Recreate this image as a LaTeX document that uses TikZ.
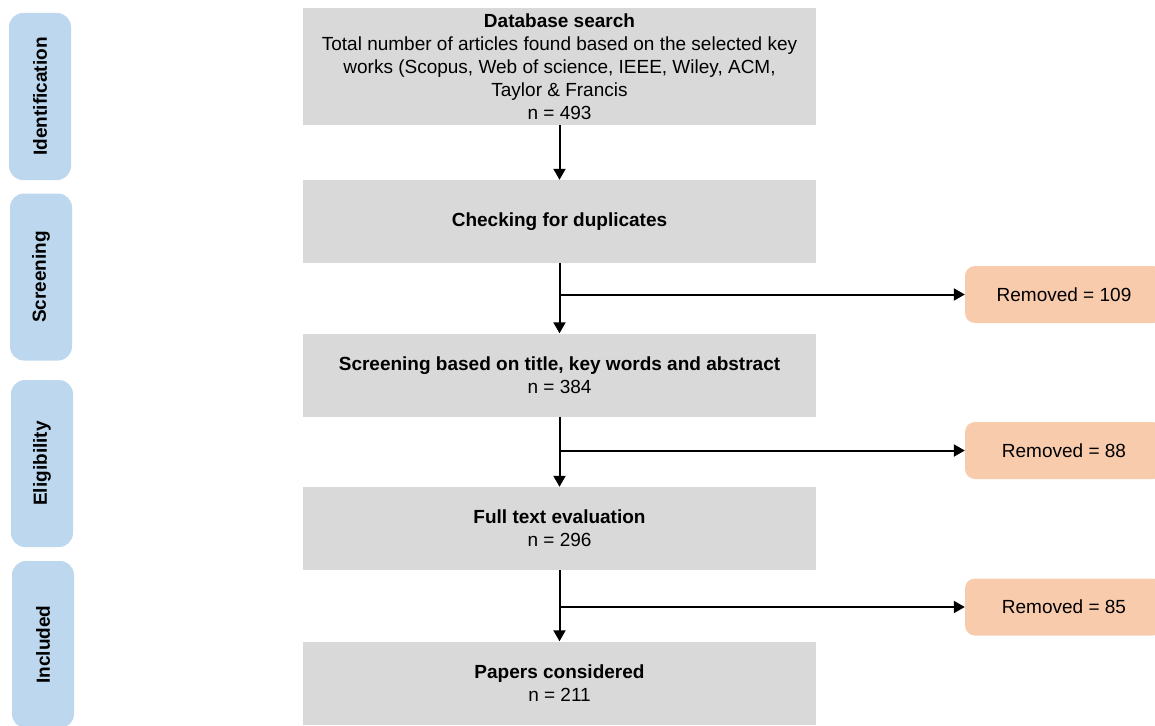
\documentclass[tikz,border=0pt]{standalone}
\usepackage{fontspec}
\setmainfont{Liberation Sans}
\usetikzlibrary{arrows.meta}
\definecolor{stagebg}{HTML}{BDD7EE}
\definecolor{stepbg}{HTML}{D9D9D9}
\definecolor{removedbg}{HTML}{F8CBAD}
\tikzset{
  stage/.style={fill=stagebg, rounded corners=14pt, rotate=90, minimum width=167pt, minimum height=62pt, inner sep=0pt, font=\fontsize{19}{23}\selectfont\bfseries},
  stepbox/.style={fill=stepbg, minimum width=513pt, minimum height=83pt, inner sep=0pt, align=center},
  removed/.style={fill=removedbg, rounded corners=10pt, minimum width=198pt, minimum height=57pt, inner sep=0pt},
  flow/.style={line width=2pt, -{Triangle[length=11pt,width=12pt]}}
}
\begin{document}
\begin{tikzpicture}[x=1pt, y=-1pt, font=\fontsize{19}{23}\selectfont]
  \useasboundingbox (0,0) rectangle (1155,725);
  \clip (0,0) rectangle (1155,725);
  \foreach \nm/\x/\y/\txt in {ident/40/96.5/Identification, screen/41/277/Screening, elig/42/463.5/Eligibility, incl/43/644.5/Included}
    \node[stage] (\nm) at (\x,\y) {\txt};
  \node[stepbox, minimum height=117pt] (db) at (559.5,66.5) {\textbf{Database search}\\Total number of articles found based on the selected key\\works (Scopus, Web of science, IEEE, Wiley, ACM,\\Taylor \& Francis\\n = 493};
  \node[stepbox] (dup) at (559.5,221.5) {\textbf{Checking for duplicates}};
  \node[stepbox] (scr) at (559.5,375) {\textbf{Screening based on title, key words and abstract}\\n = 384};
  \node[stepbox] (full) at (559.5,528.5) {\textbf{Full text evaluation}\\n = 296};
  \node[stepbox] (paper) at (559.5,683) {\textbf{Papers considered}\\n = 211};
  \foreach \nm/\y/\num in {rm109/294.5/109, rm88/450.5/88, rm85/607/85}
    \node[removed] (\nm) at (1064,\y) {Removed = \num};
  \draw[flow] (db) -- (dup);
  \draw[flow] (dup) -- (scr);
  \draw[flow] (scr) -- (full);
  \draw[flow] (full) -- (paper);
  \coordinate (br109) at (dup.south |- rm109.west);
  \coordinate (br88) at (scr.south |- rm88.west);
  \coordinate (br85) at (full.south |- rm85.west);
  \draw[flow] (br109) -- (rm109);
  \draw[flow] (br88) -- (rm88);
  \draw[flow] (br85) -- (rm85);
\end{tikzpicture}
\end{document}
